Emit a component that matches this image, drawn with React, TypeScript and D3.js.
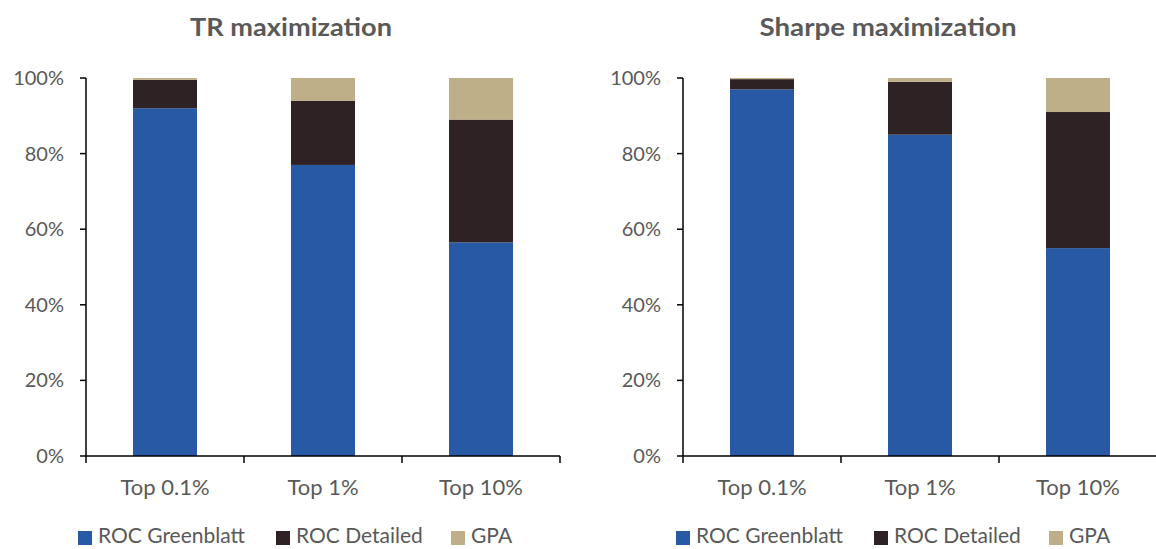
import React from "react";
import * as d3 from "d3";

const categories = ["Top 0.1%", "Top 1%", "Top 10%"];
const seriesNames = ["ROC Greenblatt", "ROC Detailed", "GPA"];
const seriesColors = ["#2759A5", "#2F2225", "#BFAF88"];

// TR maximization shares (%)
const trGreenblatt = [92, 77, 56.5];
const trDetailed = [7.5, 17, 32.5];
const trGPA = [0.5, 6, 11];

// Sharpe maximization shares (%)
const shGreenblatt = [97, 85, 55];
const shDetailed = [2.7, 14, 36];
const shGPA = [0.3, 1, 9];

const yTicks = [0, 20, 40, 60, 80, 100];

const W = 1156;
const H = 549;
const FONT = "Lato, 'Open Sans', sans-serif";
const TEXT = "#595959";

type PanelProps = {
  title: string;
  titleWidth: number;
  x0: number;
  x1: number;
  values: number[][];
  legendX: number[];
};

function Panel({ title, titleWidth, x0, x1, values, legendX }: PanelProps) {
  const y = d3.scaleLinear().domain([0, 100]).range([456, 78]);
  const x = d3
    .scaleBand<string>()
    .domain(categories)
    .range([x0, x1])
    .paddingInner(0.595)
    .paddingOuter(0.2975);
  const gap = x.step() - x.bandwidth();

  const rows = categories.map((c, i) => {
    const row: Record<string, number | string> = { cat: c };
    seriesNames.forEach((s, k) => (row[s] = values[k][i]));
    return row;
  });
  const stack = d3.stack<Record<string, number | string>>().keys(seriesNames)(rows as any);

  const boundaries = categories.map((c) => (x(c) as number) - gap / 2).concat([x1]);

  return (
    <g>
      <text
        x={x0 + 205}
        y={36}
        textAnchor="middle"
        fontFamily={FONT}
        fontWeight="bold"
        fontSize={24}
        fill={TEXT}
        textLength={titleWidth}
        lengthAdjust="spacingAndGlyphs"
      >
        {title}
      </text>
      {stack.map((layer, k) => (
        <g key={k} fill={seriesColors[k]}>
          {layer.map((d, i) => (
            <rect
              key={i}
              x={x(categories[i])}
              width={x.bandwidth()}
              y={y(d[1])}
              height={y(d[0]) - y(d[1])}
            />
          ))}
        </g>
      ))}
      {/* y axis */}
      <line x1={x0} x2={x0} y1={y(100)} y2={y(0)} stroke="#000" strokeWidth={1.5} />
      {yTicks.map((t) => (
        <g key={t}>
          <line x1={x0 - 6} x2={x0} y1={y(t)} y2={y(t)} stroke="#000" strokeWidth={1.5} />
          <text
            x={x0 - 22}
            y={y(t)}
            dy="0.35em"
            textAnchor="end"
            fontFamily={FONT}
            fontSize={20}
            fill={TEXT}
          >
            {t}%
          </text>
        </g>
      ))}
      {/* x axis */}
      <line x1={x0} x2={x1} y1={y(0)} y2={y(0)} stroke="#000" strokeWidth={1.5} />
      {boundaries.map((b, i) => (
        <line key={i} x1={b} x2={b} y1={y(0)} y2={y(0) + 7} stroke="#000" strokeWidth={1.5} />
      ))}
      {categories.map((c) => (
        <text
          key={c}
          x={(x(c) as number) + x.bandwidth() / 2}
          y={495}
          textAnchor="middle"
          fontFamily={FONT}
          fontSize={22}
          fill={TEXT}
        >
          {c}
        </text>
      ))}
      {/* legend */}
      {seriesNames.map((s, k) => (
        <g key={s}>
          <rect x={legendX[k]} y={531} width={14} height={14} fill={seriesColors[k]} />
          <text x={legendX[k] + 20} y={543} fontFamily={FONT} fontSize={21} fill={TEXT}>
            {s}
          </text>
        </g>
      ))}
    </g>
  );
}

export default function App() {
  return (
    <svg
      width={W}
      height={H}
      viewBox={`0 0 ${W} ${H}`}
      style={{ position: "absolute", left: 0, top: 0, background: "#fff" }}
    >
      <Panel
        title="TR maximization"
        titleWidth={202}
        x0={86}
        x1={560}
        values={[trGreenblatt, trDetailed, trGPA]}
        legendX={[78, 276, 451]}
      />
      <Panel
        title="Sharpe maximization"
        titleWidth={257}
        x0={683}
        x1={1157}
        values={[shGreenblatt, shDetailed, shGPA]}
        legendX={[676, 874, 1049]}
      />
    </svg>
  );
}
